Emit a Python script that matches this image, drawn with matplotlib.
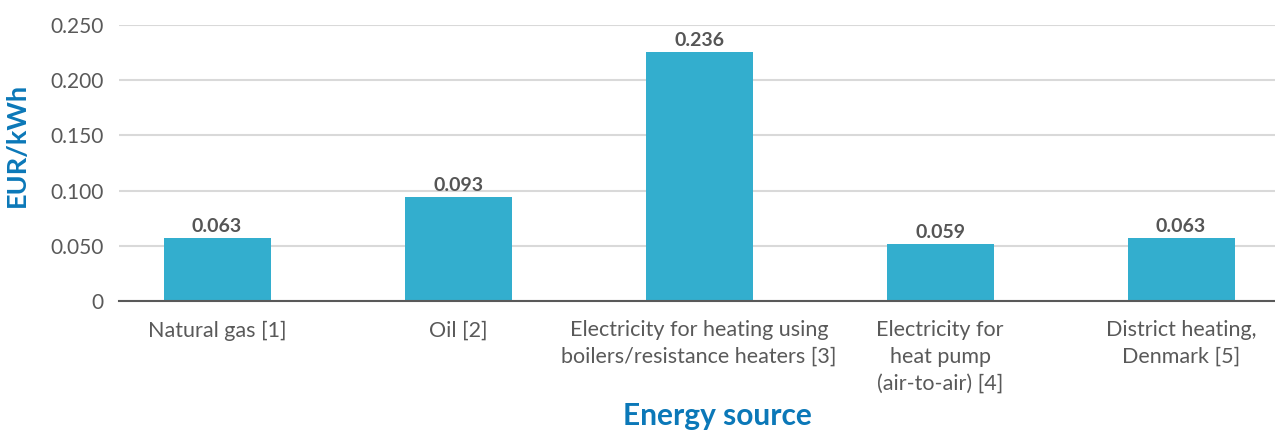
import matplotlib.pyplot as plt

categories = [
    "Natural gas [1]",
    "Oil [2]",
    "Electricity for heating using\nboilers/resistance heaters [3]",
    "Electricity for\nheat pump\n(air-to-air) [4]",
    "District heating,\nDenmark [5]",
]
bar_heights = [0.0571, 0.094, 0.2255, 0.0516, 0.0571]
value_labels = ["0.063", "0.093", "0.236", "0.059", "0.063"]
y_ticks = [0, 0.05, 0.10, 0.15, 0.20, 0.25]
y_tick_labels = ["0", "0.050", "0.100", "0.150", "0.200", "0.250"]

plt.rcParams['font.family'] = ['Lato', 'DejaVu Sans']

fig = plt.figure(figsize=(12.75, 4.3), dpi=100)
ax = fig.add_axes([0.0933, 0.3, 0.9067, 0.642])

x = list(range(len(categories)))
ax.bar(x, bar_heights, width=0.444, color="#33AECE", zorder=3)
for xi, h, lab in zip(x, bar_heights, value_labels):
    ax.text(xi, h + 0.003, lab, ha="center", va="bottom", fontsize=14,
            fontweight="bold", color="#555555")

ax.set_xlim(-0.407, 4.39)
ax.set_ylim(0, 0.25)
ax.set_yticks(y_ticks)
ax.set_yticklabels(y_tick_labels, fontsize=15)
ax.set_xticks(x)
ax.set_xticklabels(categories, linespacing=1.42, fontsize=15.5)
ax.tick_params(axis="both", length=0, labelcolor="#595959")
ax.tick_params(axis="y", pad=11)
ax.tick_params(axis="x", pad=14)
ax.grid(axis="y", color="#d9d9d9", linewidth=1.5, zorder=0)
for s in ["top", "right", "left"]:
    ax.spines[s].set_visible(False)
ax.spines["bottom"].set_color("#595959")
ax.spines["bottom"].set_linewidth(1.5)
ax.spines["bottom"].set_zorder(4)

ax.set_ylabel("EUR/kWh", fontsize=19.5, fontweight="bold", color="#0B78B8")
ax.yaxis.set_label_coords(-0.078, 0.565)
fig.text(0.563, 0.012, "Energy source", ha="center", va="baseline", fontsize=21.5,
         fontweight="bold", color="#0B78B8")

fig.savefig("out.png", dpi=100)
